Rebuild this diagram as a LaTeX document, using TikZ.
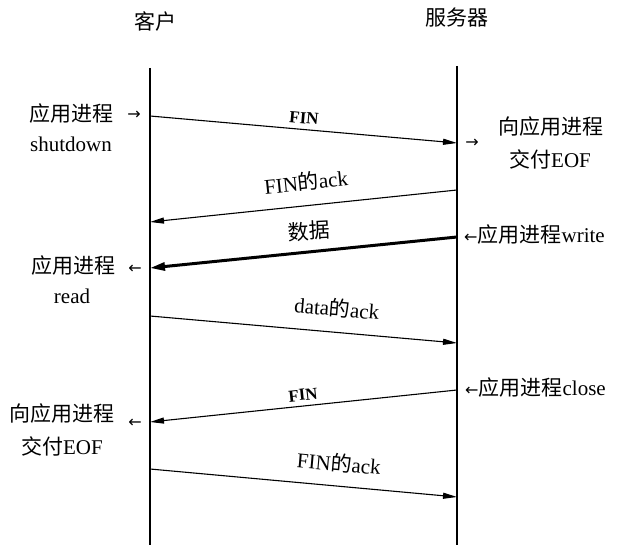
\documentclass[tikz,border=0pt]{standalone}
\usepackage{fontspec}
\setmainfont{Liberation Serif}
\newfontfamily\cjk{Noto Sans CJK SC}
\newfontfamily\arrfont{DejaVu Sans}
\usetikzlibrary{arrows.meta}
\newcommand{\zh}[1]{{\cjk #1}}
\newcommand{\sarr}[1]{{\arrfont\fontsize{16}{16}\selectfont #1}}
\begin{document}
\begin{tikzpicture}[x=1pt,y=1pt,
  lbl/.style={inner sep=0pt, font=\fontsize{21}{25}\selectfont},
  fin/.style={inner sep=0pt, font=\fontsize{17}{19}\selectfont\bfseries},
  sym/.style={inner sep=0pt, font=\arrfont\fontsize{16}{16}\selectfont},
  life/.style={line width=1.3pt},
  msg/.style={line width=1.1pt, -{Triangle[length=14pt,width=6pt]}},
  thickmsg/.style={line width=3pt, -{Triangle[length=15pt,width=8pt]}},
]
\useasboundingbox (0,0) rectangle (620,-545);
\fill[white] (0,0) rectangle (620,-545);

% titles
\node[lbl] (tc) at (155,-21) {\zh{客户}};
\node[lbl] (ts) at (457,-18) {\zh{服务器}};

% lifelines
\coordinate (ltop) at (150,-68);
\coordinate (lbot) at (150,-545);
\coordinate (rtop) at (457,-66);
\coordinate (rbot) at (457,-545);
\draw[life] (ltop) -- (lbot);
\draw[life] (rtop) -- (rbot);

% message end points
\coordinate (a1) at (150,-116); \coordinate (b1) at (457,-143);
\coordinate (b2) at (457,-190); \coordinate (a2) at (150,-222);
\coordinate (b3) at (457,-237); \coordinate (a3) at (150,-268);
\coordinate (a4) at (150,-316); \coordinate (b4) at (457,-343);
\coordinate (b5) at (457,-390); \coordinate (a5) at (150,-422);
\coordinate (a6) at (150,-469); \coordinate (b6) at (457,-497);

\draw[msg] (a1) -- (b1);
\draw[msg] (b2) -- (a2);
\draw[thickmsg] (b3) -- (a3);
\draw[msg] (a4) -- (b4);
\draw[msg] (b5) -- (a5);
\draw[msg] (a6) -- (b6);

% message labels
\node[fin, rotate=-5] (m1) at (304,-118) {FIN};
\node[lbl, rotate=6] (m2) at (306,-182) {FIN\zh{的}ack};
\node[lbl, rotate=3] (m3) at (309,-231) {\zh{数据}};
\node[lbl, rotate=-5] (m4) at (337,-308) {data\zh{的}ack};
\node[fin, rotate=6] (m5) at (303,-395) {FIN};
\node[lbl, rotate=-5] (m6) at (339,-463) {FIN\zh{的}ack};

% left side labels
\node[lbl, anchor=west] (l1) at (29,-114) {\zh{应用进程}};
\node[sym] (l1a) at (134,-115) {→};
\node[lbl] (l1b) at (71,-144) {shutdown};
\node[lbl, anchor=west] (l2) at (31,-266) {\zh{应用进程}};
\node[sym] (l2a) at (135,-269) {←};
\node[lbl] (l2b) at (72,-296) {read};
\node[lbl] (l3) at (62,-414) {\zh{向应用进程}};
\node[sym] (l3a) at (135,-423) {←};
\node[lbl] (l3b) at (62,-446) {\zh{交付}EOF};

% right side labels
\node[sym] (r1a) at (472,-143) {→};
\node[lbl] (r1) at (551,-127) {\zh{向应用进程}};
\node[lbl] (r1b) at (550,-159) {\zh{交付}EOF};
\node[lbl, anchor=west] (r2) at (464,-235) {\sarr{←}\zh{应用进程}write};
\node[lbl, anchor=west] (r3) at (465,-388) {\sarr{←}\zh{应用进程}close};
\end{tikzpicture}
\end{document}
